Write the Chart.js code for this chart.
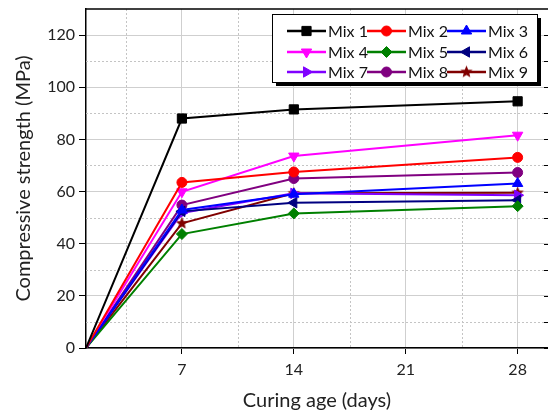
<!DOCTYPE html>
<html>
<head>
<meta charset="utf-8">
<script src="https://cdn.jsdelivr.net/npm/chart.js@4.4.1/dist/chart.umd.min.js"></script>
<style>
  html, body { margin: 0; padding: 0; background: #fff; }
</style>
</head>
<body>
<canvas id="strengthChart" width="548" height="415"></canvas>
<script>
// curing age (days); the first point sits on the axis origin
const days = [1, 7, 14, 28];
const mixNames = ['Mix 1', 'Mix 2', 'Mix 3', 'Mix 4', 'Mix 5', 'Mix 6', 'Mix 7', 'Mix 8', 'Mix 9'];

const mix1 = [0, 88.0, 91.5, 94.6];
const mix2 = [0, 63.5, 67.5, 73.1];
const mix3 = [0, 52.9, 59.0, 63.1];
const mix4 = [0, 59.9, 73.6, 81.6];
const mix5 = [0, 43.7, 51.6, 54.4];
const mix6 = [0, 52.4, 55.7, 56.7];
const mix7 = [0, 51.8, 59.3, 58.6];
const mix8 = [0, 54.8, 65.0, 67.3];
const mix9 = [0, 47.8, 59.3, 59.5];

const xMajorTicks = [7, 14, 21, 28];
const xMinorTicks = [3.5, 10.5, 17.5, 24.5];
const yMajorTicks = [0, 20, 40, 60, 80, 100, 120];
const yMinorTicks = [10, 30, 50, 70, 90, 110];

const FONT = 'Lato, "Open Sans", sans-serif';

// filled five point star marker for Mix 9
function starImage(color, r) {
  const c = document.createElement('canvas');
  const s = Math.ceil(r * 2 + 2);
  c.width = s;
  c.height = s;
  const g = c.getContext('2d');
  g.fillStyle = color;
  g.beginPath();
  for (let i = 0; i < 10; i++) {
    const rad = i % 2 ? r * 0.45 : r;
    const a = -Math.PI / 2 + i * Math.PI / 5;
    g.lineTo(s / 2 + rad * Math.cos(a), s / 2 + rad * Math.sin(a));
  }
  g.closePath();
  g.fill();
  return c;
}

const styles = [
  { color: '#000000', pointStyle: 'rect', rotation: 0, radius: 6.5 },
  { color: '#ff0000', pointStyle: 'circle', rotation: 0, radius: 5 },
  { color: '#0000ff', pointStyle: 'triangle', rotation: 0, radius: 6 },
  { color: '#ff00ff', pointStyle: 'triangle', rotation: 180, radius: 6 },
  { color: '#008000', pointStyle: 'rectRot', rotation: 0, radius: 5.5 },
  { color: '#000080', pointStyle: 'triangle', rotation: -90, radius: 6 },
  { color: '#8000ff', pointStyle: 'triangle', rotation: 90, radius: 6 },
  { color: '#800080', pointStyle: 'circle', rotation: 0, radius: 5 },
  { color: '#800000', pointStyle: starImage('#800000', 6.5), rotation: 0, radius: 6 },
];

const series = [mix1, mix2, mix3, mix4, mix5, mix6, mix7, mix8, mix9];

const datasets = series.map((values, i) => ({
  label: mixNames[i],
  data: values.map((v, j) => ({ x: days[j], y: v })),
  borderColor: styles[i].color,
  backgroundColor: styles[i].color,
  pointBackgroundColor: styles[i].color,
  pointBorderColor: styles[i].color,
  pointStyle: styles[i].pointStyle,
  pointRotation: styles[i].rotation,
  pointRadius: values.map((v, j) => (j === 0 ? 0 : styles[i].radius)),
  pointBorderWidth: 1,
  borderWidth: 2,
  tension: 0,
}));

// dotted minor grid, closed frame and the boxed legend
const decorPlugin = {
  id: 'decor',
  beforeDatasetsDraw(chart) {
    const { ctx, chartArea, scales } = chart;
    ctx.save();
    ctx.strokeStyle = '#c4c4c4';
    ctx.lineWidth = 1;
    ctx.setLineDash([2, 2]);
    xMinorTicks.forEach((v) => {
      const x = Math.round(scales.x.getPixelForValue(v)) + 0.5;
      ctx.beginPath();
      ctx.moveTo(x, chartArea.top);
      ctx.lineTo(x, chartArea.bottom);
      ctx.stroke();
    });
    yMinorTicks.forEach((v) => {
      const y = Math.round(scales.y.getPixelForValue(v)) + 0.5;
      ctx.beginPath();
      ctx.moveTo(chartArea.left, y);
      ctx.lineTo(chartArea.right, y);
      ctx.stroke();
    });
    ctx.restore();
  },
  afterDraw(chart) {
    const { ctx, chartArea, scales } = chart;
    ctx.save();
    ctx.strokeStyle = '#000';
    ctx.lineWidth = 1.5;
    ctx.beginPath();
    ctx.moveTo(chartArea.left, chartArea.top);
    ctx.lineTo(chartArea.right, chartArea.top);
    ctx.stroke();
    // small ticks along the right edge
    ctx.lineWidth = 1;
    yMajorTicks.concat(yMinorTicks).forEach((v) => {
      const y = Math.round(scales.y.getPixelForValue(v)) + 0.5;
      ctx.beginPath();
      ctx.moveTo(chartArea.right - 4, y);
      ctx.lineTo(chartArea.right, y);
      ctx.stroke();
    });

    // legend box with shadow
    const bx = 272, by = 14, bw = 265, bh = 68;
    ctx.fillStyle = '#000';
    ctx.fillRect(bx + 4, by + 4, bw, bh);
    ctx.fillStyle = '#fff';
    ctx.fillRect(bx, by, bw, bh);
    ctx.strokeStyle = '#000';
    ctx.lineWidth = 1;
    ctx.strokeRect(bx + 0.5, by + 0.5, bw, bh);

    const colX = [287, 367, 447];
    const rowY = [31, 52, 72];
    const segW = 39;
    ctx.font = '16px ' + FONT;
    ctx.textBaseline = 'middle';
    chart.data.datasets.forEach((ds, i) => {
      const x0 = colX[i % 3];
      const y0 = rowY[Math.floor(i / 3)];
      ctx.strokeStyle = ds.borderColor;
      ctx.lineWidth = 2.5;
      ctx.beginPath();
      ctx.moveTo(x0, y0);
      ctx.lineTo(x0 + segW, y0);
      ctx.stroke();
      ctx.fillStyle = ds.pointBackgroundColor;
      ctx.strokeStyle = ds.pointBorderColor;
      ctx.lineWidth = 1;
      Chart.helpers.drawPoint(ctx, {
        pointStyle: ds.pointStyle,
        rotation: ds.pointRotation,
        radius: styles[i].radius,
        borderWidth: 1,
      }, x0 + segW / 2, y0);
      ctx.fillStyle = '#111';
      ctx.fillText(ds.label, x0 + segW + 2, y0 + 1);
    });
    ctx.restore();
  },
};

new Chart(document.getElementById('strengthChart'), {
  type: 'line',
  data: { datasets },
  plugins: [decorPlugin],
  options: {
    responsive: false,
    animation: false,
    layout: { autoPadding: false, padding: { top: 9, right: 0, left: 0, bottom: 0 } },
    plugins: {
      legend: { display: false },
      tooltip: { enabled: false },
    },
    scales: {
      x: {
        type: 'linear',
        min: 1,
        max: 29.9,
        afterBuildTicks: (scale) => {
          scale.ticks = xMajorTicks.map((v) => ({ value: v }));
        },
        afterFit: (scale) => {
          scale.height = 67;
          scale.paddingLeft = 0;
          scale.paddingRight = 0;
        },
        grid: { color: '#cfcfcf', tickColor: '#000', tickLength: 6 },
        border: { color: '#000', width: 1.5 },
        ticks: { font: { family: FONT, size: 16 }, color: '#222', padding: 6, maxRotation: 0 },
        title: {
          display: true,
          text: 'Curing age (days)',
          font: { family: FONT, size: 20 },
          color: '#222',
          padding: { top: 0, bottom: 2 },
        },
      },
      y: {
        min: 0,
        max: 130,
        afterBuildTicks: (scale) => {
          scale.ticks = yMajorTicks.map((v) => ({ value: v }));
        },
        afterFit: (scale) => {
          scale.width = 86;
          scale.paddingTop = 0;
          scale.paddingBottom = 0;
        },
        grid: { color: '#cfcfcf', tickColor: '#000', tickLength: 7 },
        border: { color: '#000', width: 1.5 },
        ticks: { font: { family: FONT, size: 16 }, color: '#222', padding: 4 },
        title: {
          display: true,
          text: 'Compressive strength (MPa)',
          font: { family: FONT, size: 20 },
          color: '#222',
          padding: { top: 12, bottom: 0 },
        },
      },
    },
  },
});
</script>
</body>
</html>
